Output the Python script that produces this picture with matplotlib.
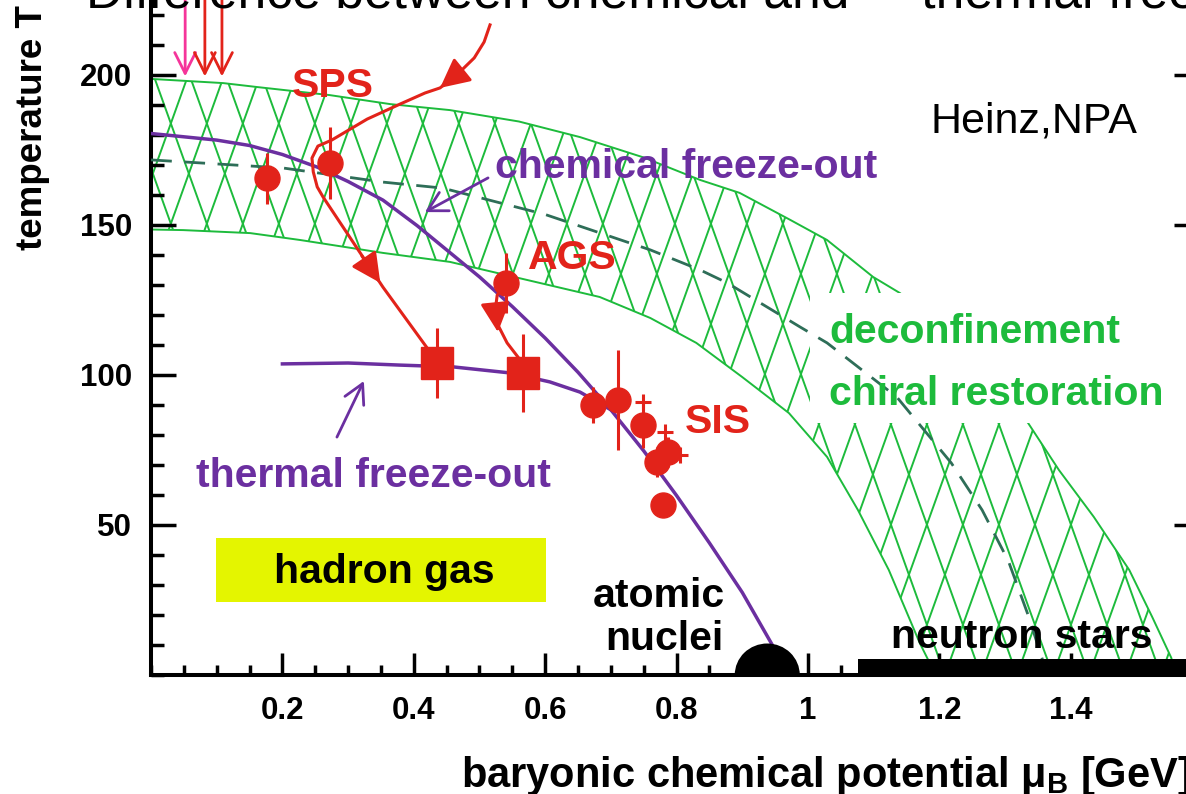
import numpy as np
import matplotlib
matplotlib.use("Agg")
import matplotlib.pyplot as plt
from matplotlib.patches import Rectangle, Ellipse, Polygon
from matplotlib.collections import LineCollection
from matplotlib.ticker import MultipleLocator, FixedLocator, FuncFormatter, NullLocator

plt.rcParams['font.family'] = ['Liberation Sans', 'DejaVu Sans']
plt.rcParams['mathtext.fontset'] = 'custom'
plt.rcParams['mathtext.rm'] = 'Liberation Sans:bold'
plt.rcParams['mathtext.it'] = 'Liberation Sans:bold'
plt.rcParams['mathtext.bf'] = 'Liberation Sans:bold'

RED = '#e2231a'
PINK = '#f5359a'
PURPLE = '#6b2fa0'
GREEN = '#1dbb3c'
DARK = '#2e6e58'
YELLOW = '#e4f500'

# deconfinement band: outer and inner edge (mu_B in GeV, T in MeV)
outer_mu = [0.0, 0.110, 0.161, 0.272, 0.364, 0.455, 0.560, 0.653, 0.750, 0.836, 0.896,
            0.973, 1.029, 1.099, 1.140, 1.200, 1.270, 1.335, 1.382, 1.435, 1.489,
            1.524, 1.553, 1.559]
outer_T = [198.7, 197.3, 196.0, 193.3, 190.3, 188.3, 184.5, 179.3, 172.5, 165.0, 160.7,
           151.7, 145.0, 132.7, 127.3, 117.0, 101.0, 84.0, 68.3, 52.7, 35.0,
           19.3, 5.7, 0.0]
inner_mu = [0.0, 0.049, 0.151, 0.227, 0.353, 0.455, 0.572, 0.683, 0.760, 0.830, 0.900,
            0.971, 1.029, 1.076, 1.123, 1.170, 1.183, 1.189]
inner_T = [148.5, 148.3, 147.3, 145.0, 140.7, 137.7, 131.7, 126.0, 119.0, 110.7, 99.3,
           87.3, 72.7, 55.0, 35.0, 10.7, 5.0, 0.0]

# dashed line through the band
crit_mu = [0.0, 0.201, 0.353, 0.444, 0.600, 0.760, 0.836, 0.877, 0.988, 1.029, 1.135,
           1.218, 1.265, 1.305, 1.335, 1.360]
crit_T = [171.7, 169.0, 164.3, 162.3, 153.5, 141.7, 135.0, 130.7, 116.0, 110.7, 92.7,
          70.7, 55.0, 38.0, 20.0, 3.0]

# freeze-out curves
chem_mu = [0.0, 0.100, 0.150, 0.200, 0.253, 0.300, 0.353, 0.405, 0.455, 0.500, 0.550,
           0.600, 0.650, 0.700, 0.750, 0.800, 0.850, 0.900, 0.947]
chem_T = [180.5, 178.3, 176.5, 173.5, 169.3, 164.5, 158.3, 149.8, 140.8, 132.7, 122.8,
          112.3, 100.9, 88.4, 74.7, 59.8, 44.0, 27.5, 9.5]
therm_mu = [0.200, 0.300, 0.379, 0.460, 0.546, 0.607, 0.653, 0.700]
therm_T = [103.7, 104.0, 103.3, 102.7, 100.7, 97.7, 94.3, 88.4]

# chemical freeze-out points
chem_pt_mu = [0.176, 0.272, 0.540]
chem_pt_T = [165.6, 170.6, 130.6]
chem_pt_err = [8.5, 12.0, 10.0]
# thermal freeze-out points
therm_pt_mu = [0.435, 0.566]
therm_pt_T = [103.9, 100.6]
therm_pt_err = [11.7, 13.0]
# SIS points
sis_mu = [0.673, 0.711, 0.749, 0.770, 0.787, 0.779]
sis_T = [90.0, 91.7, 83.3, 71.0, 74.3, 56.7]
sis_err = [6.0, 16.7, 7.5, 5.0, 5.0, 0.0]
sis_cross_mu = [0.749, 0.782, 0.805]
sis_cross_T = [91.0, 81.0, 73.3]

# SPS and AGS trajectories
sps_path_mu = [0.516, 0.507, 0.492, 0.470, 0.440, 0.417, 0.379, 0.329, 0.275, 0.254,
               0.245, 0.247, 0.253, 0.262, 0.353, 0.428]
sps_path_T = [216.7, 211.0, 205.7, 201.0, 195.7, 194.0, 190.3, 185.3, 178.3, 176.3,
              172.3, 167.7, 162.7, 159.3, 129.3, 106.7]
ags_path_mu = [0.540, 0.527, 0.524, 0.528, 0.542, 0.562]
ags_path_T = [130.0, 126.7, 121.7, 116.7, 110.7, 105.0]

# beam arrows at the top
top_arrow_mu = [0.052, 0.082, 0.108]
top_arrow_col = [PINK, RED, RED]

fig = plt.figure(figsize=(11.86, 7.94), dpi=100)
ax = fig.add_axes([151 / 1186, 119 / 794, 1036 / 1186, 675 / 794])
ax.set_xlim(0, 1036 / 657)
ax.set_ylim(0, 225)

# hatched band: diamond lattice clipped to the band outline
band_xy = list(zip(outer_mu, outer_T)) + list(zip(inner_mu[::-1], inner_T[::-1]))
band = Polygon(band_xy, closed=True, facecolor='none', edgecolor='none')
ax.add_patch(band)
period, slope = 0.0548, 610.0
segs = []
for x0 in np.arange(-0.6, 2.2, period):
    segs.append([(x0, 0), (x0 + 240 / slope, 240)])
    segs.append([(x0, 0), (x0 - 240 / slope, 240)])
lattice = LineCollection(segs, colors=GREEN, linewidths=1.4, zorder=1)
ax.add_collection(lattice)
lattice.set_clip_path(band)
ax.plot(outer_mu, outer_T, color=GREEN, lw=1.4, zorder=1.2)
ax.plot(inner_mu, inner_T, color=GREEN, lw=1.4, zorder=1.2)

# white panel behind the band label
ax.add_patch(Rectangle((1.003, 84.0), 0.7, 43.3, facecolor='white', edgecolor='none', zorder=2))

ax.plot(crit_mu, crit_T, color=DARK, lw=2.0, dashes=(7.5, 4.5), zorder=3)

ax.plot(chem_mu, chem_T, color=PURPLE, lw=2.5, zorder=4)
ax.plot(therm_mu, therm_T, color=PURPLE, lw=2.5, zorder=4)

ax.plot(sps_path_mu, sps_path_T, color=RED, lw=2.2, zorder=5, clip_on=False)
ax.plot(ags_path_mu, ags_path_T, color=RED, lw=2.2, zorder=5)

head = dict(arrowstyle='-|>,head_length=0.9,head_width=0.45', color=RED, lw=2.2,
            mutation_scale=20, shrinkA=0, shrinkB=0)
ax.annotate('', xy=(0.440, 195.7), xytext=(0.470, 201.0), arrowprops=head, zorder=5)
ax.annotate('', xy=(0.349, 130.7), xytext=(0.321, 139.7), arrowprops=head, zorder=5)
ax.annotate('', xy=(0.528, 114.3), xytext=(0.525, 121.0), arrowprops=head, zorder=5)

for m, c in zip(top_arrow_mu, top_arrow_col):
    ax.annotate('', xy=(m, 199.5), xytext=(m, 226),
                arrowprops=dict(arrowstyle='->,head_length=0.6,head_width=0.3', color=c,
                                lw=2.0, mutation_scale=25, shrinkA=0, shrinkB=0))

popen = dict(arrowstyle='->,head_length=0.55,head_width=0.3', color=PURPLE, lw=2.0,
             mutation_scale=25, shrinkA=0, shrinkB=0)
ax.annotate('', xy=(0.417, 154.3), xytext=(0.513, 165.7), arrowprops=popen, zorder=4)
ax.annotate('', xy=(0.324, 98.0), xytext=(0.283, 79.3), arrowprops=popen, zorder=4)

ax.errorbar(chem_pt_mu, chem_pt_T, yerr=chem_pt_err, fmt='o', ms=18, color=RED,
            elinewidth=2.2, capsize=0, zorder=6)
ax.errorbar(therm_pt_mu, therm_pt_T, yerr=therm_pt_err, fmt='s', ms=23, color=RED,
            elinewidth=2.2, capsize=0, zorder=6)
ax.errorbar(sis_mu, sis_T, yerr=sis_err, fmt='o', ms=18, color=RED,
            elinewidth=2.2, capsize=0, zorder=6)
ax.plot(sis_cross_mu, sis_cross_T, '+', ms=11, mew=2.2, color=RED, zorder=6)

# nuclei and neutron stars on the axis
ax.add_patch(Ellipse((0.938, 0), 0.099, 21, facecolor='black', edgecolor='none', zorder=6))
ax.add_patch(Rectangle((1.076, 0), 0.6, 5.5, facecolor='black', edgecolor='none', zorder=6))

ax.add_patch(Rectangle((0.099, 24.3), 0.502, 21.4, facecolor=YELLOW, edgecolor='none', zorder=2))

bold = dict(fontsize=29.5, fontweight='bold', zorder=7)
ax.text(0.276, 192.7, 'SPS', color=RED, ha='center', **bold)
ax.text(0.574, 135.3, 'AGS', color=RED, ha='left', **bold)
ax.text(0.813, 80.7, 'SIS', color=RED, ha='left', **bold)
ax.text(0.524, 165.7, 'chemical freeze-out', color=PURPLE, ha='left', **bold)
ax.text(0.068, 62.7, 'thermal freeze-out', color=PURPLE, ha='left', **bold)
ax.text(1.032, 110.7, 'deconfinement', color=GREEN, ha='left', **bold)
ax.text(1.032, 90.0, 'chiral restoration', color=GREEN, ha='left', **bold)
ax.text(0.355, 30.7, 'hadron gas', color='black', ha='center', **bold)
ax.text(0.773, 22.7, 'atomic', color='black', ha='center', **bold)
ax.text(0.782, 8.3, 'nuclei', color='black', ha='center', **bold)
ax.text(1.126, 9.0, 'neutron stars', color='black', ha='left', **bold)
ax.text(1.186, 180.7, 'Heinz,NPA', color='black', ha='left', fontsize=31, zorder=7)

# axes styling
for s in ['top', 'right']:
    ax.spines[s].set_visible(False)
for s in ['left', 'bottom']:
    ax.spines[s].set_linewidth(2.9)
ax.xaxis.set_major_locator(FixedLocator([0.2, 0.4, 0.6, 0.8, 1.0, 1.2, 1.4]))
ax.xaxis.set_minor_locator(MultipleLocator(0.05))
ax.yaxis.set_major_locator(FixedLocator([50, 100, 150, 200]))
ax.yaxis.set_minor_locator(MultipleLocator(10))
ax.xaxis.set_major_formatter(FuncFormatter(lambda v, _: f'{v:g}'))
ax.tick_params(axis='x', which='major', direction='in', length=15.8, width=2.5, pad=15,
               labelsize=22.5)
ax.tick_params(axis='x', which='minor', direction='in', length=7.2, width=2.5)
ax.tick_params(axis='y', which='major', direction='in', length=18, width=2.5, pad=13.5,
               labelsize=22.5)
ax.tick_params(axis='y', which='minor', direction='in', length=9.4, width=2.5)
for lab in ax.get_xticklabels() + ax.get_yticklabels():
    lab.set_fontweight('bold')

sec = ax.secondary_yaxis('right')
sec.set_yticks([50, 100, 150, 200])
sec.yaxis.set_minor_locator(NullLocator())
sec.tick_params(direction='in', length=9.5, width=2.5, labelright=False)
sec.spines['right'].set_linewidth(2.9)

fig.text(41.7 / 1186, 1 - 250 / 794, 'temperature T [MeV]', rotation=90,
         rotation_mode='anchor', ha='left', va='baseline', fontsize=26.5, fontweight='bold')
fig.text(461 / 1186, 1 - 787 / 794, r'baryonic chemical potential $\mu_{\mathregular{B}}$ [GeV]',
         ha='left', va='baseline', fontsize=30, fontweight='bold')
fig.text(86 / 1186, 1 - 7 / 794, 'Difference between chemical and     thermal freeze-out',
         ha='left', va='baseline', fontsize=37.2)

fig.savefig('out.png', dpi=100)
